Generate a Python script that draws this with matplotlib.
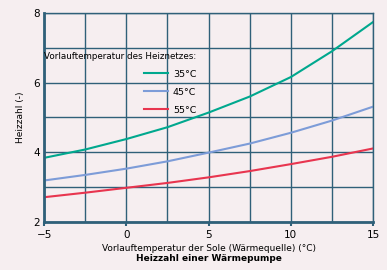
import matplotlib.pyplot as plt

# Soletemperatur (°C) und Heizzahl je Vorlauftemperatur
sole_temp = [-5, -2.5, 0, 2.5, 5, 7.5, 10, 12.5, 15]
cop_35 = [3.84, 4.08, 4.38, 4.72, 5.14, 5.60, 6.16, 6.90, 7.74]
cop_45 = [3.19, 3.35, 3.53, 3.74, 3.99, 4.25, 4.56, 4.91, 5.31]
cop_55 = [2.71, 2.84, 2.98, 3.12, 3.28, 3.46, 3.66, 3.87, 4.11]
series_labels = ['35°C', '45°C', '55°C']

bg = '#f6eef0'
gridc = '#2f6079'

fig = plt.figure(figsize=(3.87, 2.70), dpi=100, facecolor=bg)
ax = fig.add_axes([0.114, 0.178, 0.850, 0.774], facecolor=bg)

ax.plot(sole_temp, cop_35, color='#00a88e', lw=1.5, label=series_labels[0])
ax.plot(sole_temp, cop_45, color='#7d9cd8', lw=1.5, label=series_labels[1])
ax.plot(sole_temp, cop_55, color='#e8354f', lw=1.5, label=series_labels[2])

ax.set_xlim(-5, 15)
ax.set_ylim(2, 8)
ax.set_xticks([-5, 0, 5, 10, 15])
ax.set_xticks([-2.5, 2.5, 7.5, 12.5], minor=True)
ax.set_yticks([2, 4, 6, 8])
ax.set_yticks([3, 5, 7], minor=True)
ax.grid(True, which='both', color=gridc, lw=1.0)
ax.set_axisbelow(True)
ax.tick_params(which='both', length=0, labelsize=7.5, colors='black', pad=3)
ax.tick_params(axis='x', which='major', length=3, color=gridc, width=1.5)

for s in ['top', 'right']:
    ax.spines[s].set_color(gridc)
    ax.spines[s].set_linewidth(1.0)
for s in ['left', 'bottom']:
    ax.spines[s].set_color(gridc)
    ax.spines[s].set_linewidth(2.0)

ax.set_ylabel('Heizzahl (-)', fontsize=6.5, labelpad=6)
ax.set_xlabel('Vorlauftemperatur der Sole (Wärmequelle) (°C)', fontsize=6.5, labelpad=3)
fig.text(0.54, 0.035, 'Heizzahl einer Wärmepumpe', fontsize=6.5, fontweight='bold',
         ha='center')

leg = ax.legend(title='Vorlauftemperatur des Heiznetzes:', loc='upper left',
                bbox_to_anchor=(0.0, 0.815), frameon=False, fontsize=6.8,
                title_fontsize=6.3, handlelength=2.6,
                labelspacing=0.95, handletextpad=0.5, borderaxespad=0,
                borderpad=0)
leg._legend_box.align = 'right'

fig.savefig('out.png', dpi=100, facecolor=bg)
